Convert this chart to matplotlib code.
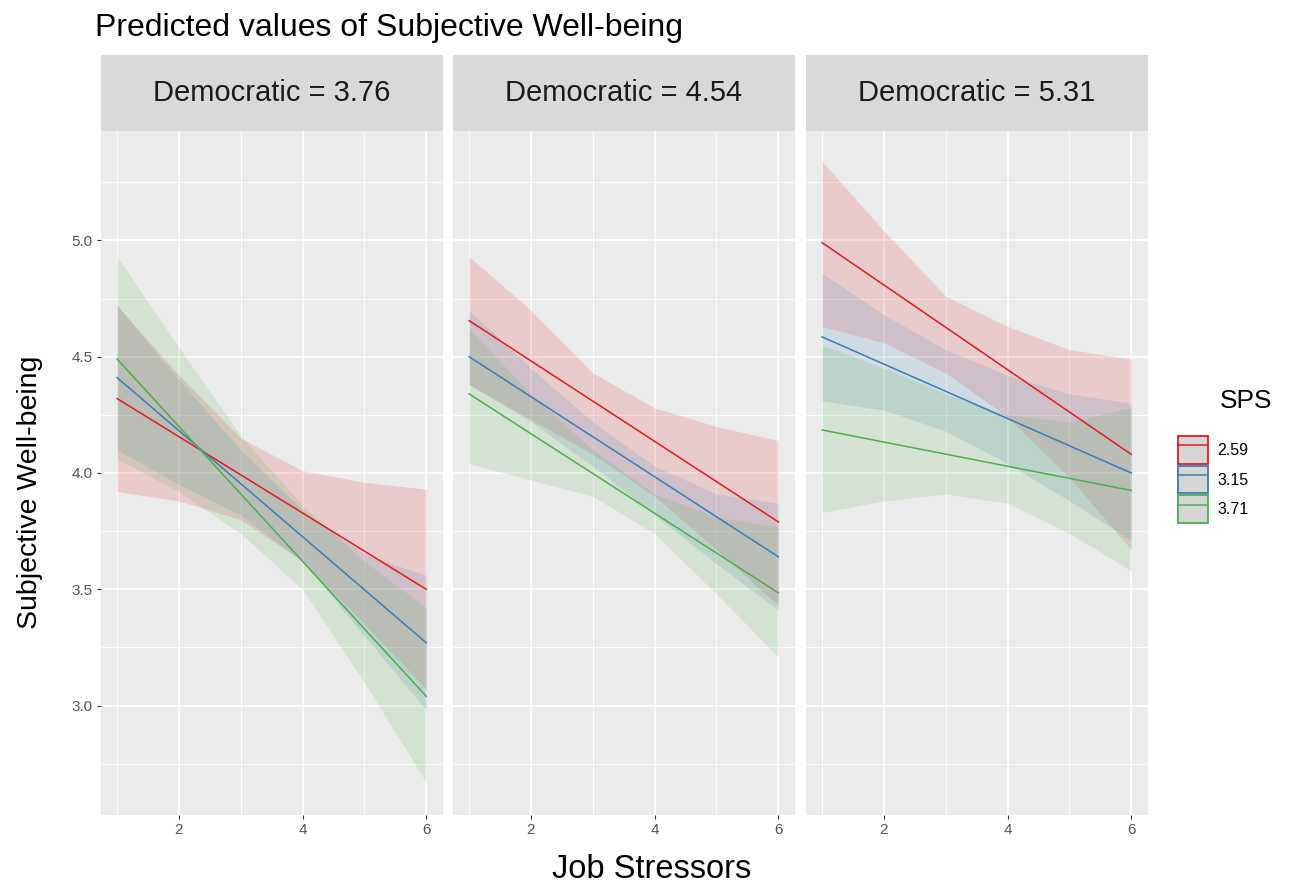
import matplotlib
matplotlib.use("Agg")
import matplotlib.pyplot as plt
from matplotlib.patches import Patch
from matplotlib.lines import Line2D

plt.rcParams['font.family'] = ['Liberation Sans', 'DejaVu Sans']

# Data
x_pts = [1, 2, 3, 4, 5, 6]
facets = ['Democratic = 3.76', 'Democratic = 4.54', 'Democratic = 5.31']
sps_levels = ['2.59', '3.15', '3.71']
colors = ['#E41A1C', '#377EB8', '#4DAF4A']

# predicted line endpoints (x = 1 and x = 6) per facet, per SPS level
line_start = [[4.32, 4.41, 4.49], [4.655, 4.50, 4.34], [4.99, 4.585, 4.185]]
line_end = [[3.50, 3.27, 3.04], [3.79, 3.64, 3.485], [4.08, 4.00, 3.925]]

# confidence band upper / lower at x = 1..6
band_upper = [
    [[4.72, 4.42, 4.15, 4.01, 3.96, 3.93],
     [4.72, 4.40, 4.10, 3.84, 3.65, 3.56],
     [4.93, 4.54, 4.16, 3.86, 3.62, 3.42]],
    [[4.93, 4.70, 4.43, 4.28, 4.20, 4.14],
     [4.70, 4.45, 4.22, 4.03, 3.91, 3.87],
     [4.62, 4.34, 4.10, 3.91, 3.81, 3.77]],
    [[5.34, 5.04, 4.76, 4.63, 4.53, 4.49],
     [4.86, 4.68, 4.53, 4.42, 4.34, 4.30],
     [4.55, 4.45, 4.34, 4.25, 4.22, 4.28]],
]
band_lower = [
    [[3.92, 3.88, 3.80, 3.62, 3.35, 3.07],
     [4.10, 3.95, 3.82, 3.62, 3.30, 2.98],
     [4.06, 3.92, 3.74, 3.50, 3.10, 2.67]],
    [[4.38, 4.23, 4.08, 3.90, 3.67, 3.43],
     [4.38, 4.22, 4.03, 3.82, 3.61, 3.41],
     [4.04, 3.97, 3.90, 3.74, 3.48, 3.21]],
    [[4.63, 4.56, 4.43, 4.24, 3.98, 3.67],
     [4.31, 4.27, 4.18, 4.04, 3.88, 3.71],
     [3.83, 3.88, 3.91, 3.87, 3.74, 3.58]],
]

W, H = 1290, 882
fig = plt.figure(figsize=(W / 100, H / 100), dpi=100)

panel_left = [101, 453, 806]
panel_w = 342
panel_top, panel_bot = 131, 815
strip_top = 55

for i, name in enumerate(facets):
    l = panel_left[i] / W
    b = (H - panel_bot) / H
    ax = fig.add_axes([l, b, panel_w / W, (panel_bot - panel_top) / H])
    ax.set_facecolor('#EBEBEB')
    ax.set_xlim(0.74, 6.27)
    ax.set_ylim(2.53, 5.47)
    ax.set_xticks([2, 4, 6])
    ax.set_xticks([1, 3, 5], minor=True)
    ax.set_yticks([3.0, 3.5, 4.0, 4.5, 5.0])
    ax.set_yticks([2.75, 3.25, 3.75, 4.25, 4.75, 5.25], minor=True)
    ax.grid(True, which='major', color='white', linewidth=1.2)
    ax.grid(True, which='minor', color='white', linewidth=0.6)
    ax.set_axisbelow(True)
    for s in ax.spines.values():
        s.set_visible(False)
    ax.tick_params(which='both', length=0)
    ax.tick_params(axis='both', which='major', length=3, color='#333333',
                   labelsize=11, labelcolor='#555555', pad=3)
    ax.set_yticklabels(['3.0', '3.5', '4.0', '4.5', '5.0'])
    if i > 0:
        ax.tick_params(axis='y', which='major', length=0, labelleft=False)

    for k in range(3):
        ax.fill_between(x_pts, band_lower[i][k], band_upper[i][k],
                        color=colors[k], alpha=0.15, linewidth=0)
    for k in range(3):
        ax.plot([1, 6], [line_start[i][k], line_end[i][k]],
                color=colors[k], linewidth=1.1)

    # facet strip
    sax = fig.add_axes([l, (H - panel_top) / H, panel_w / W,
                        (panel_top - strip_top) / H])
    sax.set_facecolor('#D9D9D9')
    sax.set_xticks([])
    sax.set_yticks([])
    for s in sax.spines.values():
        s.set_visible(False)
    sax.text(0.5, 0.5, name, ha='center', va='center', fontsize=21,
             color='#1A1A1A', transform=sax.transAxes)

fig.text(95 / W, 1 - 28 / H, 'Predicted values of Subjective Well-being',
         ha='left', va='center', fontsize=23)
fig.text(30 / W, 1 - 492 / H, 'Subjective Well-being', rotation=90,
         ha='center', va='center', fontsize=20.5)
fig.text(652 / W, 1 - 869 / H, 'Job Stressors', ha='center', va='center',
         fontsize=23.5)

# legend
fig.text(1246 / W, 1 - 401 / H, 'SPS', ha='center', va='center', fontsize=19)
handles = [(Patch(facecolor='#D6D6D6', edgecolor=c, linewidth=1.3),
            Line2D([], [], color=c, linewidth=1.1)) for c in colors]
fig.legend(handles, sps_levels, loc='upper left',
           bbox_to_anchor=(1178 / W, 1 - 436 / H), frameon=False,
           fontsize=11.5, handlelength=1.85, handleheight=2.3,
           labelspacing=0.12, handletextpad=0.6, borderpad=0,
           borderaxespad=0)

fig.savefig('out.png', dpi=100, facecolor='white')
